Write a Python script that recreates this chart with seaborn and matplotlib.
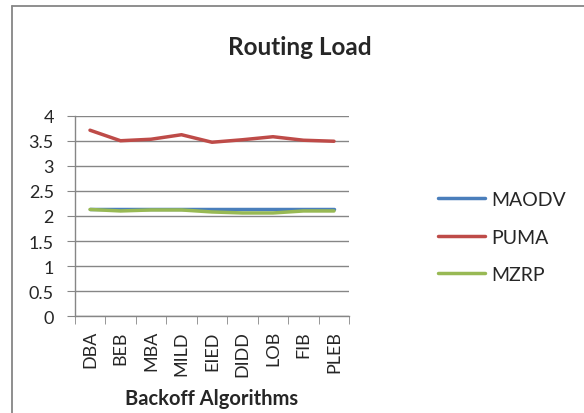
import pandas as pd
import seaborn as sns
import matplotlib.pyplot as plt
from matplotlib.lines import Line2D
from matplotlib.ticker import FixedLocator

# Routing load per backoff algorithm
algorithms = ["DBA", "BEB", "MBA", "MILD", "EIED", "DIDD", "LOB", "FIB", "PLEB"]
maodv = [2.13, 2.13, 2.13, 2.13, 2.13, 2.13, 2.13, 2.13, 2.13]
puma = [3.71, 3.50, 3.53, 3.62, 3.47, 3.52, 3.58, 3.51, 3.49]
mzrp = [2.13, 2.10, 2.12, 2.12, 2.08, 2.06, 2.06, 2.10, 2.10]

protocols = ["MAODV", "PUMA", "MZRP"]
colors = ["#4A7EBB", "#BE4B48", "#98B954"]

df = pd.DataFrame({
    "Algorithm": algorithms * 3,
    "Load": maodv + puma + mzrp,
    "Protocol": [p for p in protocols for _ in algorithms],
})

sns.set_style("white")
plt.rcParams["font.family"] = ["Lato", "DejaVu Sans"]

fig = plt.figure(figsize=(5.84, 4.14), dpi=100)
ax = fig.add_axes([0.128, 0.2336, 0.47, 0.4846])

sns.lineplot(data=df, x="Algorithm", y="Load", hue="Protocol",
             palette=colors, linewidth=2.5, ax=ax, legend=False)

ax.set_xlim(-0.5, len(algorithms) - 0.5)
ax.set_ylim(0, 4)
ax.set_yticks([0, 0.5, 1, 1.5, 2, 2.5, 3, 3.5, 4])
ax.set_yticklabels(["0", "0.5", "1", "1.5", "2", "2.5", "3", "3.5", "4"])
ax.grid(axis="y", color="#868686", linewidth=1)
ax.set_axisbelow(True)

ax.set_xticks(range(len(algorithms)))
ax.set_xticklabels(algorithms, rotation=90, fontsize=13)
ax.xaxis.set_minor_locator(FixedLocator([i - 0.5 for i in range(len(algorithms) + 1)]))
ax.tick_params(axis="x", which="major", length=0, pad=10)
ax.tick_params(axis="x", which="minor", length=6, color="#868686", direction="out", bottom=True)
ax.tick_params(axis="y", length=6, color="#868686", direction="out", left=True, labelsize=13, pad=9)

for side in ["top", "right"]:
    ax.spines[side].set_visible(False)
for side in ["left", "bottom"]:
    ax.spines[side].set_color("#868686")
    ax.spines[side].set_linewidth(1)

ax.set_xlabel("")
ax.set_ylabel("")
fig.text(0.363, 0.036, "Backoff Algorithms", ha="center", va="center",
         fontsize=14.5, fontweight="bold")
fig.text(0.514, 0.886, "Routing Load", ha="center", va="center",
         fontsize=17.5, fontweight="bold")

handles = [Line2D([], [], color=c, linewidth=2.5) for c in colors]
fig.legend(handles, protocols, loc="center left", bbox_to_anchor=(0.75, 0.425),
           frameon=False, fontsize=14, handlelength=2.4, handletextpad=0.36,
           labelspacing=1.05, borderpad=0, borderaxespad=0)

# chart border (only top and left edges visible in the crop)
fig.add_artist(Line2D([12 / 584, 1], [1 - 7 / 414] * 2, transform=fig.transFigure,
                      color="#868686", linewidth=1.3))
fig.add_artist(Line2D([12 / 584] * 2, [0, 1 - 7 / 414], transform=fig.transFigure,
                      color="#868686", linewidth=1.3))

fig.savefig("out.png", dpi=100)
